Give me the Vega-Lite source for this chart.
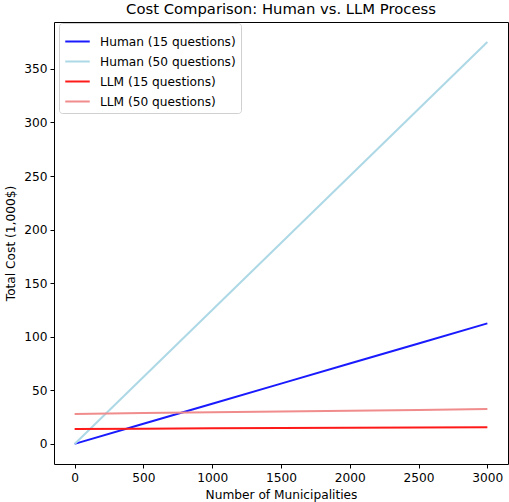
{
  "$schema": "https://vega.github.io/schema/vega-lite/v6.json",
  "width": 454,
  "height": 442,
  "autosize": {"type": "none"},
  "padding": {"left": 54, "top": 22, "right": 1, "bottom": 38},
  "title": {"text": "Cost Comparison: Human vs. LLM Process", "fontSize": 14.8, "fontWeight": "normal", "font": "DejaVu Sans", "color": "#000", "offset": 5},
  "config": {
    "view": {"stroke": "#000", "strokeWidth": 1},
    "font": "DejaVu Sans",
    "axis": {
      "grid": false, "domain": false, "tickColor": "#000", "tickSize": 4, "tickWidth": 1,
      "labelFontSize": 12.2, "labelColor": "#000", "labelPadding": 3,
      "titleFontSize": 12.2, "titleFontWeight": "normal", "titleColor": "#000"
    }
  },
  "data": {"values": [
    {"n": 0, "cost": 0, "series": "Human (15 questions)"},
    {"n": 500, "cost": 18.75, "series": "Human (15 questions)"},
    {"n": 1000, "cost": 37.5, "series": "Human (15 questions)"},
    {"n": 1500, "cost": 56.25, "series": "Human (15 questions)"},
    {"n": 2000, "cost": 75, "series": "Human (15 questions)"},
    {"n": 2500, "cost": 93.75, "series": "Human (15 questions)"},
    {"n": 3000, "cost": 112.5, "series": "Human (15 questions)"},
    {"n": 0, "cost": 0, "series": "Human (50 questions)"},
    {"n": 500, "cost": 62.5, "series": "Human (50 questions)"},
    {"n": 1000, "cost": 125, "series": "Human (50 questions)"},
    {"n": 1500, "cost": 187.5, "series": "Human (50 questions)"},
    {"n": 2000, "cost": 250, "series": "Human (50 questions)"},
    {"n": 2500, "cost": 312.5, "series": "Human (50 questions)"},
    {"n": 3000, "cost": 375, "series": "Human (50 questions)"},
    {"n": 0, "cost": 14, "series": "LLM (15 questions)"},
    {"n": 500, "cost": 14.25, "series": "LLM (15 questions)"},
    {"n": 1000, "cost": 14.5, "series": "LLM (15 questions)"},
    {"n": 1500, "cost": 14.75, "series": "LLM (15 questions)"},
    {"n": 2000, "cost": 15, "series": "LLM (15 questions)"},
    {"n": 2500, "cost": 15.25, "series": "LLM (15 questions)"},
    {"n": 3000, "cost": 15.5, "series": "LLM (15 questions)"},
    {"n": 0, "cost": 28, "series": "LLM (50 questions)"},
    {"n": 500, "cost": 28.75, "series": "LLM (50 questions)"},
    {"n": 1000, "cost": 29.5, "series": "LLM (50 questions)"},
    {"n": 1500, "cost": 30.25, "series": "LLM (50 questions)"},
    {"n": 2000, "cost": 31, "series": "LLM (50 questions)"},
    {"n": 2500, "cost": 31.75, "series": "LLM (50 questions)"},
    {"n": 3000, "cost": 32.5, "series": "LLM (50 questions)"}
  ]},
  "mark": {"type": "line", "strokeWidth": 2},
  "encoding": {
    "x": {"field": "n", "type": "quantitative", "title": "Number of Municipalities",
      "scale": {"domain": [-150, 3150], "nice": false, "zero": false},
      "axis": {"values": [0, 500, 1000, 1500, 2000, 2500, 3000], "format": "d", "titlePadding": 5}},
    "y": {"field": "cost", "type": "quantitative", "title": "Total Cost (1,000$)",
      "scale": {"domain": [-18.75, 393.75], "nice": false, "zero": false},
      "axis": {"values": [0, 50, 100, 150, 200, 250, 300, 350], "titlePadding": 6}},
    "color": {"field": "series", "type": "nominal", "title": null,
      "scale": {"domain": ["Human (15 questions)", "Human (50 questions)", "LLM (15 questions)", "LLM (50 questions)"],
        "range": ["#1a1aff", "#add8e6", "#ff1a1a", "#f08c8c"]},
      "legend": {"orient": "none", "legendX": 5, "legendY": 1, "symbolType": "stroke", "symbolSize": 600, "symbolStrokeWidth": 2,
        "labelFontSize": 12.2, "labelColor": "#000", "labelOffset": 9, "rowPadding": -6, "padding": 5,
        "strokeColor": "#d0d0d0", "fillColor": "rgba(255,255,255,0.8)", "cornerRadius": 3}}
  }
}
